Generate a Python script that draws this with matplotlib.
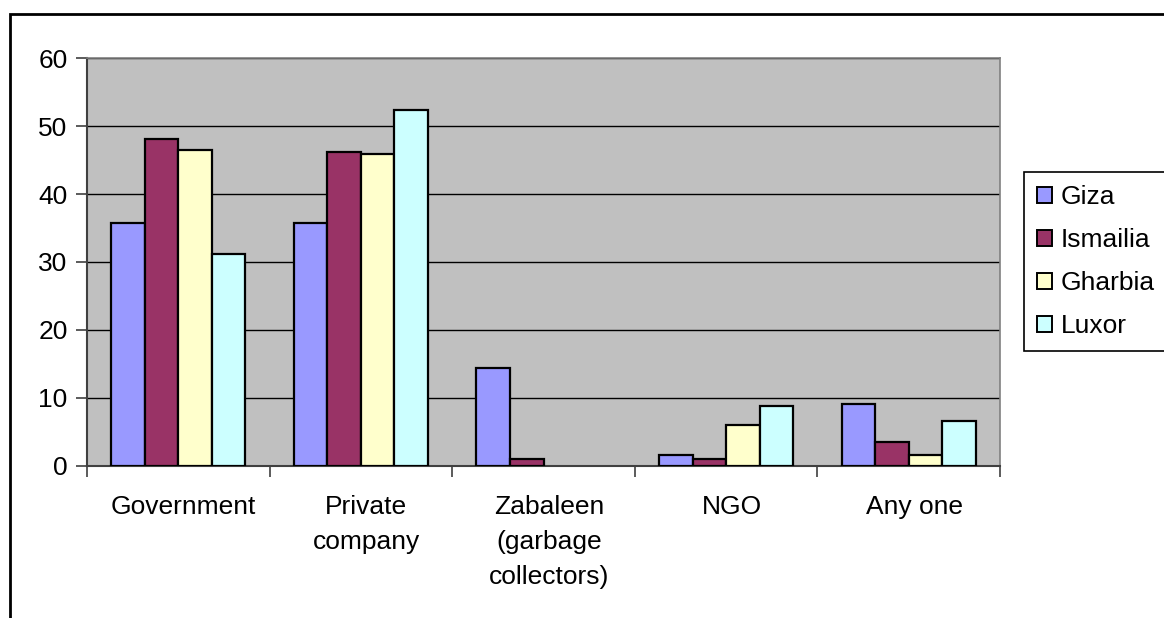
import matplotlib
matplotlib.use("Agg")
import matplotlib.pyplot as plt
import numpy as np
from matplotlib.patches import Rectangle, Patch

categories = ["Government", "Private\ncompany", "Zabaleen\n(garbage\ncollectors)", "NGO", "Any one"]
series_names = ["Giza", "Ismailia", "Gharbia", "Luxor"]
giza = [35.8, 35.8, 14.3, 1.5, 9.0]
ismailia = [48.1, 46.2, 0.9, 0.9, 3.4]
gharbia = [46.5, 45.9, 0.0, 5.9, 1.5]
luxor = [31.2, 52.4, 0.0, 8.7, 6.5]
y_ticks = [0, 10, 20, 30, 40, 50, 60]

colors = ["#9999FF", "#993366", "#FFFFCC", "#CCFFFF"]
series = [giza, ismailia, gharbia, luxor]

plt.rcParams["font.family"] = ["Liberation Sans", "DejaVu Sans"]
FS = 19

W, H = 1164, 618
fig = plt.figure(figsize=(W / 100, H / 100), dpi=100)
fig.patch.set_facecolor("white")

# outer chart frame (runs off the right and bottom edges)
fig.patches.append(Rectangle((10 / W, -0.05), 1.2, (H - 14) / H + 0.05,
                             transform=fig.transFigure, fill=False,
                             edgecolor="black", linewidth=2.0, zorder=0))

# legend frame, also running past the right edge
fig.patches.append(Rectangle((1024 / W, (H - 351) / H), 0.2, (351 - 172.5) / H,
                             transform=fig.transFigure, facecolor="white",
                             edgecolor="black", linewidth=1.2, zorder=1))

left, right, top, bottom = 87, 1000, 58.3, 465.5
ax = fig.add_axes([left / W, (H - bottom) / H, (right - left) / W, (bottom - top) / H])
ax.set_facecolor("#C0C0C0")

n = len(categories)
x = np.arange(n)
bar_w = 0.184
offsets = (np.arange(4) - 1.5) * bar_w
for vals, col, name, off in zip(series, colors, series_names, offsets):
    v = np.array(vals)
    mask = v > 0
    ax.bar(x[mask] + off, v[mask], width=bar_w, color=col, edgecolor="black",
           linewidth=1.6, label=name, zorder=3)

ax.set_xlim(-0.5, n - 0.5)
ax.set_ylim(0, 60)
ax.set_yticks(y_ticks)
ax.set_yticklabels([str(t) for t in y_ticks], fontsize=FS)
ax.yaxis.grid(True, color="black", linewidth=1.0, zorder=1)
ax.set_axisbelow(True)

ax.set_xticks(np.arange(n + 1) - 0.5)
ax.set_xticklabels([])
ax.tick_params(axis="x", direction="out", length=8, width=1.2, color="#404040")
ax.tick_params(axis="y", direction="out", length=8, width=1.2, color="#404040", pad=6)

for s in ["left", "bottom"]:
    ax.spines[s].set_color("#404040")
    ax.spines[s].set_linewidth(1.5)
for s in ["top", "right"]:
    ax.spines[s].set_color("#808080")
    ax.spines[s].set_linewidth(1.2)

# category labels, centred under each group
for i, lab in enumerate(categories):
    ax.text(i + 0.03, -4.3, lab, ha="center", va="top", fontsize=FS,
            linespacing=1.6, transform=ax.transData, clip_on=False)

handles = [Patch(facecolor=c, edgecolor="black", linewidth=1.4) for c in colors]
leg = fig.legend(handles, series_names, loc="upper left",
                 bbox_to_anchor=(1026 / W, (H - 174) / H),
                 fontsize=FS, frameon=False,
                 handlelength=0.55, handleheight=0.55,
                 handletextpad=0.35, labelspacing=0.72, borderpad=0.42,
                 borderaxespad=0.0)
leg.set_zorder(2)

fig.savefig("out.png", dpi=100)
